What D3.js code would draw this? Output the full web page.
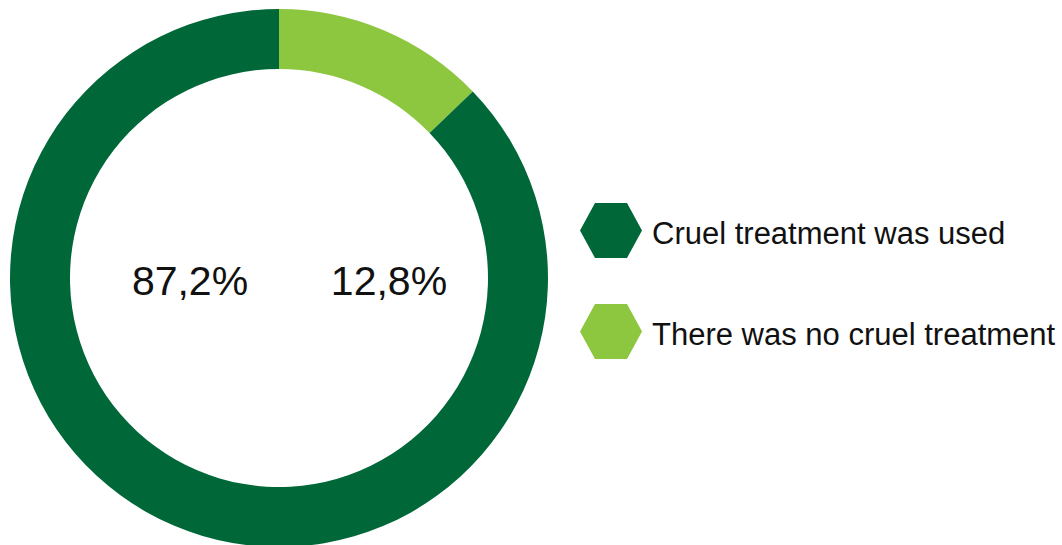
<!DOCTYPE html>
<html>
<head>
<meta charset="utf-8">
<script src="https://cdn.jsdelivr.net/npm/d3@7"></script>
<style>
  html, body { margin: 0; padding: 0; background: #fff; }
  svg { display: block; }
  text { font-family: "Liberation Sans", Arial, Helvetica, sans-serif; fill: #111; }
</style>
</head>
<body>
<svg id="chart" width="1062" height="545"></svg>
<script>
const categories = ["There was no cruel treatment", "Cruel treatment was used"];
const values = [12.8, 87.2];
const valueLabels = ["12,8%", "87,2%"];
const legendOrder = ["Cruel treatment was used", "There was no cruel treatment"];
const colors = ["#8dc63f", "#006838"];

const svg = d3.select("#chart");
const cx = 279, cy = 278, outerR = 269, innerR = 209;

const color = d3.scaleOrdinal().domain(categories).range(colors);

const pie = d3.pie().sort(null).value(d => d.value);
const data = categories.map((c, i) => ({ name: c, value: values[i], label: valueLabels[i] }));
const arcs = pie(data);
const arc = d3.arc().innerRadius(innerR).outerRadius(outerR);

const g = svg.append("g").attr("transform", `translate(${cx},${cy})`);
g.selectAll("path").data(arcs).enter().append("path")
  .attr("d", arc)
  .attr("fill", d => color(d.data.name));

// Value labels inside the ring
const labelPos = { "87,2%": -89, "12,8%": 110 };
g.selectAll("text.val").data(arcs).enter().append("text")
  .attr("class", "val")
  .attr("x", d => labelPos[d.data.label])
  .attr("y", 17)
  .attr("text-anchor", "middle")
  .attr("font-size", 41)
  .text(d => d.data.label);

// Legend with hexagons
const hexW = 62, hexH = 55, hexInset = 15;
function hexPath(x, y) {
  const pts = [
    [x, y + hexH / 2], [x + hexInset, y], [x + hexW - hexInset, y],
    [x + hexW, y + hexH / 2], [x + hexW - hexInset, y + hexH], [x + hexInset, y + hexH]
  ];
  return d3.line()(pts) + "Z";
}
const legendY = d3.scalePoint().domain(legendOrder).range([203, 304]);
const leg = svg.append("g");
legendOrder.forEach(name => {
  const y = legendY(name);
  leg.append("path").attr("d", hexPath(580, y)).attr("fill", color(name));
  leg.append("text").attr("x", 652).attr("y", y + 40.5)
    .attr("font-size", 31).text(name);
});
</script>
</body>
</html>
